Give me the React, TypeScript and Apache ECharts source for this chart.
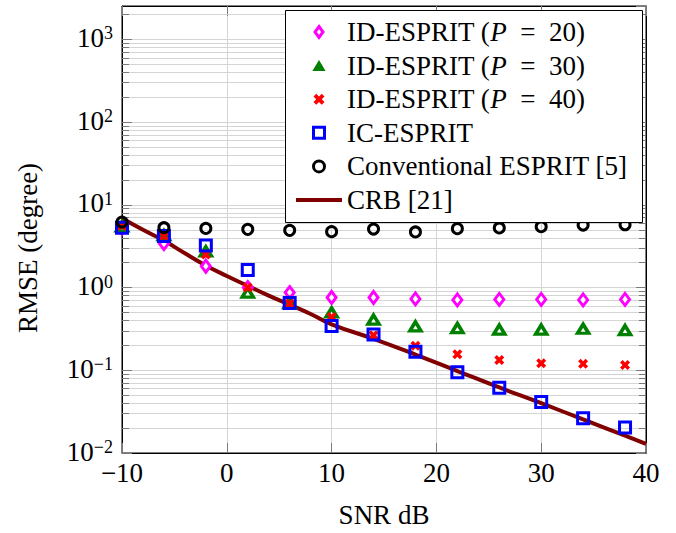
import React, { useEffect, useRef } from 'react';
import * as echarts from 'echarts';

const FONT = '"Liberation Serif", "Times New Roman", serif';

const snr = [-10, -6, -2, 2, 6, 10, 14, 18, 22, 26, 30, 34, 38];
const idP20 = [5.2, 3.4, 1.81, 1.0, 0.87, 0.76, 0.76, 0.73, 0.71, 0.72, 0.72, 0.71, 0.72];
const idP30 = [5.5, 4.3, 2.74, 0.87, 0.65, 0.5, 0.41, 0.34, 0.324, 0.31, 0.31, 0.318, 0.306];
const idP40 = [5.6, 4.2, 2.52, 1.0, 0.64, 0.44, 0.265, 0.198, 0.156, 0.133, 0.122, 0.12, 0.116];
const icEsprit = [5.3, 4.22, 3.23, 1.63, 0.65, 0.343, 0.27, 0.168, 0.095, 0.0614, 0.0413, 0.0264, 0.0204];
const convEsprit = [6.2, 5.3, 5.2, 5.06, 4.92, 4.75, 5.1, 4.71, 5.16, 5.26, 5.45, 5.7, 5.75];
const crbSnr = [-10, -8, -6, -4, -2, 0, 2, 4, 6, 8, 10, 14, 18, 22, 26, 30, 34, 38, 40];
const crbVals = [6.9, 5.0, 3.7, 2.6, 1.85, 1.38, 1.05, 0.8, 0.62, 0.48, 0.36, 0.24, 0.155, 0.098, 0.062, 0.04, 0.0255, 0.0162, 0.0129];

const seriesNames = [
  'ID-ESPRIT (P = 20)',
  'ID-ESPRIT (P = 30)',
  'ID-ESPRIT (P = 40)',
  'IC-ESPRIT',
  'Conventional ESPRIT [5]',
  'CRB [21]',
];

const X_MIN = -10;
const X_MAX = 40;
const Y_MIN = 0.01;
const Y_MAX = 2540;

const CROSS = 'path://M0,2.5 L2.5,0 L5,2.5 L7.5,0 L10,2.5 L7.5,5 L10,7.5 L7.5,10 L5,7.5 L2.5,10 L0,7.5 L2.5,5 Z';
const ICON_DIAMOND = 'path://M4,0 L8,5.5 L4,11 L0,5.5 Z';
const ICON_TRIANGLE = 'path://M6,0 L12,10 L0,10 Z';
const ICON_SQUARE = 'path://M0,0 L10,0 L10,10 L0,10 Z';
const ICON_CIRCLE = 'path://M5,0 A5,5 0 1,1 5,10 A5,5 0 1,1 5,0 Z';
const ICON_BAR = 'path://M0,0 L46,0 L46,4 L0,4 Z';

function minorValues(): number[] {
  const out: number[] = [];
  for (let k = -2; k <= 3; k++) {
    for (let m = 2; m <= 9; m++) {
      const v = m * Math.pow(10, k);
      if (v < Y_MAX) out.push(v);
    }
  }
  return out;
}

export default function App() {
  const ref = useRef<HTMLDivElement>(null);
  useEffect(() => {
    if (!ref.current) return;
    const chart = echarts.init(ref.current, undefined, { renderer: 'svg' });
    const pts = (ys: number[]) => snr.map((x, i) => [x, ys[i]]);
    const minors = minorValues();
    const gridColor = '#d4d4d4';
    const tickColor = '#7a7a7a';
    const TICK_FS = 27;
    const LEG_FS = 27;
    const NAME_FS = 27;

    const supLabel = (v: number) => {
      const e = Math.round(Math.log10(v));
      const s = e < 0 ? '\u2212' + -e : String(e);
      return `{b|10}{s|${s}}`;
    };

    const option: any = {
      animation: false,
      backgroundColor: '#fff',
      grid: {
        left: 122,
        top: 6,
        width: 524,
        height: 453,
        show: true,
        borderColor: '#000',
        borderWidth: 1,
        backgroundColor: 'transparent',
      },
      legend: {
        orient: 'vertical',
        left: 285,
        top: 10,
        z: 20,
        padding: [8.5, 14, 11, 11],
        itemGap: 6.6,
        itemWidth: 46,
        itemHeight: 11,
        backgroundColor: 'transparent',
        borderWidth: 0,
        textStyle: {
          fontFamily: FONT,
          fontSize: LEG_FS,
          color: '#000',
          lineHeight: 25,
          rich: {
            it: { fontStyle: 'italic', fontFamily: FONT, fontSize: LEG_FS, color: '#000', lineHeight: 25 },
          },
        },
        formatter: (name: string) => name.replace('(P', '({it|P}').replace(' = ', '\u2002=\u2002'),
        data: [
          { name: seriesNames[0], icon: ICON_DIAMOND, itemStyle: { color: '#fff', borderColor: '#ff00ff', borderWidth: 3 } },
          { name: seriesNames[1], icon: ICON_TRIANGLE, itemStyle: { color: '#008000', borderWidth: 0 } },
          { name: seriesNames[2], icon: CROSS, itemStyle: { color: '#ff0000', borderWidth: 0 } },
          { name: seriesNames[3], icon: ICON_SQUARE, itemStyle: { color: 'rgba(255,255,255,0)', borderColor: '#0000ff', borderWidth: 3 } },
          { name: seriesNames[4], icon: ICON_CIRCLE, itemStyle: { color: 'rgba(255,255,255,0)', borderColor: '#000', borderWidth: 3 } },
          { name: seriesNames[5], icon: ICON_BAR, itemStyle: { color: '#800000', borderWidth: 0 } },
        ],
      },
      xAxis: [
        {
          type: 'value',
          min: X_MIN,
          max: X_MAX,
          interval: 10,
          position: 'bottom',
          axisLine: { show: true, onZero: false, lineStyle: { color: '#000', width: 1 } },
          axisTick: { show: true, inside: true, length: 10, lineStyle: { color: tickColor } },
          splitLine: { show: true, lineStyle: { color: gridColor, width: 1 } },
          axisLabel: {
            fontFamily: FONT,
            fontSize: TICK_FS,
            color: '#000',
            margin: 6,
            formatter: (v: number) => (v < 0 ? '\u2212' + -v : String(v)),
          },
          name: 'SNR dB',
          nameLocation: 'middle',
          nameGap: 48,
          nameTextStyle: { fontFamily: FONT, fontSize: NAME_FS, color: '#000' },
        },
        {
          type: 'value',
          min: X_MIN,
          max: X_MAX,
          interval: 10,
          position: 'top',
          axisLine: { show: true, onZero: false, lineStyle: { color: '#000', width: 1 } },
          axisTick: { show: true, inside: true, length: 10, lineStyle: { color: tickColor } },
          splitLine: { show: false },
          axisLabel: { show: false },
        },
      ],
      yAxis: [
        {
          type: 'log',
          logBase: 10,
          min: Y_MIN,
          max: Y_MAX,
          position: 'left',
          axisLine: { show: true, onZero: false, lineStyle: { color: '#000', width: 1 } },
          axisTick: { show: true, inside: true, length: 10, lineStyle: { color: tickColor } },
          splitLine: { show: true, lineStyle: { color: gridColor, width: 1 } },
          axisLabel: {
            showMaxLabel: false,
            margin: 9,
            formatter: supLabel,
            rich: {
              b: { fontFamily: FONT, fontSize: TICK_FS, color: '#000', lineHeight: 30, verticalAlign: 'top' },
              s: { fontFamily: FONT, fontSize: 18, color: '#000', lineHeight: 17, verticalAlign: 'top' },
            },
          },
        },
        {
          type: 'log',
          logBase: 10,
          min: Y_MIN,
          max: Y_MAX,
          position: 'right',
          axisLine: { show: true, onZero: false, lineStyle: { color: '#000', width: 1 } },
          axisTick: { show: true, inside: true, length: 10, lineStyle: { color: tickColor } },
          splitLine: { show: false },
          axisLabel: { show: false },
        },
      ],
      graphic: [
        {
          type: 'rect',
          z: 19,
          shape: { x: 285.5, y: 10.5, width: 357, height: 212 },
          style: { fill: '#fff', stroke: '#000', lineWidth: 1 },
        },
        {
          type: 'text',
          x: 28,
          y: 248,
          rotation: Math.PI / 2,
          style: {
            text: 'RMSE (degree)',
            fontFamily: FONT,
            fontSize: NAME_FS,
            fill: '#000',
            align: 'center',
            verticalAlign: 'middle',
          },
        },
      ],
      series: [
        {
          type: 'line',
          name: '__grid',
          data: [[X_MIN, 1]],
          symbol: 'none',
          lineStyle: { width: 0, opacity: 0 },
          silent: true,
          z: 1,
          markLine: {
            z: 1,
            silent: true,
            symbol: ['none', 'none'],
            label: { show: false },
            animation: false,
            data: [
              ...minors.map((v) => ({ yAxis: v, lineStyle: { color: gridColor, width: 1, type: 'solid' } })),
              ...minors.map((v) => [
                { coord: [X_MIN, v], lineStyle: { color: tickColor, width: 1, type: 'solid' } },
                { coord: [X_MIN + 0.67, v] },
              ]),
              ...minors.map((v) => [
                { coord: [X_MAX - 0.67, v], lineStyle: { color: tickColor, width: 1, type: 'solid' } },
                { coord: [X_MAX, v] },
              ]),
            ],
          },
        },
        {
          type: 'line',
          name: seriesNames[5],
          data: crbSnr.map((x, i) => [x, crbVals[i]]),
          symbol: 'none',
          smooth: true,
          lineStyle: { color: '#800000', width: 4 },
          itemStyle: { color: '#800000' },
          z: 2,
        },
        {
          type: 'scatter',
          name: seriesNames[0],
          data: pts(idP20),
          symbol: 'diamond',
          symbolSize: [9, 12],
          itemStyle: { color: '#fff', borderColor: '#ff00ff', borderWidth: 3, opacity: 1 },
          z: 3,
        },
        {
          type: 'scatter',
          name: seriesNames[1],
          data: pts(idP30),
          symbol: 'triangle',
          symbolSize: [11, 9],
          itemStyle: { color: '#fff', borderColor: '#008000', borderWidth: 3.5, opacity: 1 },
          z: 4,
        },
        {
          type: 'scatter',
          name: seriesNames[2],
          data: pts(idP40),
          symbol: CROSS,
          symbolSize: 10,
          itemStyle: { color: '#ff0000', borderWidth: 0, opacity: 1 },
          z: 5,
        },
        {
          type: 'scatter',
          name: seriesNames[3],
          data: pts(icEsprit),
          symbol: 'rect',
          symbolSize: 11,
          itemStyle: { color: 'rgba(255,255,255,0)', borderColor: '#0000ff', borderWidth: 3, opacity: 1 },
          z: 6,
        },
        {
          type: 'scatter',
          name: seriesNames[4],
          data: pts(convEsprit),
          symbol: 'circle',
          symbolSize: 10,
          itemStyle: { color: 'rgba(255,255,255,0)', borderColor: '#000000', borderWidth: 3, opacity: 1 },
          z: 7,
        },
      ],
    };
    chart.setOption(option);
    return () => chart.dispose();
  }, []);
  return (
    <div
      ref={ref}
      style={{ position: 'fixed', left: 0, top: 0, width: 676, height: 533, background: '#fff' }}
    />
  );
}
